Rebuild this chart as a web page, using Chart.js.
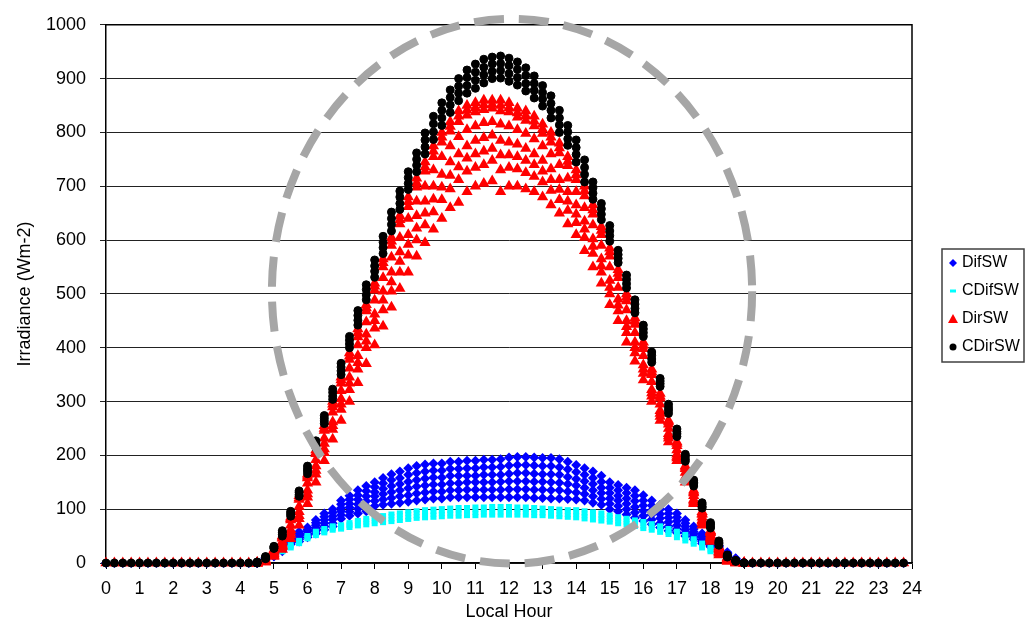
<!DOCTYPE html>
<html>
<head>
<meta charset="utf-8">
<script src="https://cdn.jsdelivr.net/npm/chart.js@4.4.1/dist/chart.umd.min.js"></script>
<style>
body { margin: 0; background: #fff; }
#wrap { width: 1027px; height: 624px; position: relative; }
</style>
</head>
<body>
<div id="wrap"><canvas id="myChart"></canvas></div>
<script>
// 15-minute time steps (local hour)
const dayHours = [4.5,4.75,5,5.25,5.5,5.75,6,6.25,6.5,6.75,7,7.25,7.5,7.75,8,8.25,8.5,8.75,9,9.25,9.5,9.75,10,10.25,10.5,10.75,11,11.25,11.5,11.75,12,12.25,12.5,12.75,13,13.25,13.5,13.75,14,14.25,14.5,14.75,15,15.25,15.5,15.75,16,16.25,16.5,16.75,17,17.25,17.5,17.75,18,18.25,18.5,18.75,19];
// night steps, every series is 0 there
const nightHours = [0,0.25,0.5,0.75,1,1.25,1.5,1.75,2,2.25,2.5,2.75,3,3.25,3.5,3.75,4,4.25,19.25,19.5,19.75,20,20.25,20.5,20.75,21,21.25,21.5,21.75,22,22.25,22.5,22.75,23,23.25,23.5,23.75];

const seriesNames = ["DifSW", "CDifSW", "DirSW", "CDirSW"];

// one row per day step, several days per row
const difSW = [
  [0,0,1,1,2,2],[5,6,7,8,9,10],[12,13,15,17,18,20],[22,24,26,28,31,33],[35,37,39,41,43,45],
  [40,44,47,51,54,58],[48,52,55,59,62,66],[55,60,65,70,75,80],[62,68,74,80,86,92],[68,74,81,87,94,100],
  [82,89,96,102,109,116],[88,95,103,110,118,125],[92,101,109,118,126,135],[96,105,115,124,134,143],[106,115,124,132,141,150],
  [108,118,128,138,148,158],[110,121,132,143,154,165],[112,124,135,147,158,170],[114,126,139,151,164,176],[116,129,142,154,167,180],
  [118,131,144,157,170,183],[120,133,146,159,172,185],[120,133,146,159,172,185],[122,135,148,162,175,188],[122,135,148,162,175,188],
  [122,136,150,162,176,190],[122,136,150,162,176,190],[122,136,150,164,178,192],[122,136,150,164,178,192],[122,136,151,164,179,193],
  [122,137,152,166,181,196],[122,137,152,167,182,197],[122,137,152,167,182,197],[121,136,151,166,181,196],[121,136,151,165,180,195],
  [120,135,150,165,180,195],[120,135,149,164,178,193],[119,133,147,160,174,188],[118,131,144,156,169,182],[116,128,140,152,164,176],
  [112,124,135,147,158,170],[108,119,130,140,151,162],[100,110,120,130,140,150],[96,106,116,125,135,145],[90,100,110,120,130,140],
  [84,94,104,115,125,135],[78,88,97,107,116,126],[72,81,90,98,107,116],[66,74,83,91,100,108],[60,68,76,84,92,100],
  [56,63,70,78,85,92],[50,56,62,68,74,80],[44,49,54,58,63,68],[36,40,43,48,51,55],[30,32,35,37,40,42],
  [20,22,24,28,30,32],[12,14,15,17,18,20],[4,5,6,7,8,9],[0,0,1,1,2,2]
];

const cdifSW = [
  [0,0,1,1],[5,6,7,8],[13,15,16,18],[20,22,25,27],[27,30,32,35],
  [35,38,40,43],[44,47,49,52],[50,53,57,60],[55,58,62,65],[60,63,67,70],
  [62,65,69,72],[65,69,72,76],[68,72,76,80],[70,75,79,84],[72,77,81,86],
  [74,79,84,89],[76,81,87,92],[78,83,89,94],[80,85,91,96],[82,87,93,98],
  [83,89,94,100],[84,90,95,101],[85,91,96,102],[86,92,97,103],[86,92,98,104],
  [87,93,98,104],[87,93,99,105],[88,94,99,105],[88,94,100,106],[88,94,100,106],
  [88,94,100,106],[88,94,99,105],[88,94,99,105],[87,93,98,104],[87,92,98,103],
  [86,91,97,102],[85,90,96,101],[84,89,95,100],[83,89,94,100],[81,87,92,98],
  [79,85,90,96],[77,83,88,94],[75,80,85,90],[72,77,82,87],[70,75,79,84],
  [67,72,76,81],[63,68,73,78],[60,65,69,74],[56,61,65,70],[52,56,61,65],
  [46,51,55,60],[40,45,49,54],[34,38,42,46],[27,31,34,38],[20,23,27,30],
  [14,17,19,22],[8,10,12,14],[3,4,5,6],[0,0,1,1]
];

const dirSW = [
  [0,0,0,0,0,0,0,0],[6,5,5,4,3,3,2,2],[25,23,22,20,17,15,14,12],[50,48,46,40,35,32,30,25],[85,82,80,70,62,57,52,45],
  [125,121,118,105,95,88,82,70],[165,161,158,148,135,128,122,110],[210,206,203,192,180,172,165,150],[255,250,246,232,222,212,205,190],[300,295,290,280,262,255,248,230],
  [345,340,334,320,305,295,285,265],[390,384,378,362,345,334,322,300],[435,428,420,405,385,372,360,335],[480,474,468,448,425,412,400,370],[520,514,507,488,462,450,436,405],
  [565,558,550,530,505,488,470,440],[605,598,590,568,540,522,505,475],[645,638,630,605,578,560,540,510],[680,671,662,640,610,592,572,540],[715,706,698,672,645,622,600,570],
  [745,736,728,700,672,650,628,595],[775,765,755,730,700,676,652,620],[800,791,782,755,722,698,675,640],[820,811,802,775,745,720,695,660],[840,830,820,792,760,736,712,670],
  [850,841,832,805,775,752,728,690],[855,846,838,812,785,760,735,700],[860,851,842,818,790,765,740,705],[860,852,845,820,795,770,748,710],[860,850,840,815,785,758,730,690],
  [855,846,838,812,782,758,735,700],[845,836,828,805,778,755,732,700],[840,831,822,798,770,748,725,695],[830,821,812,788,760,740,718,690],[815,806,798,775,748,728,708,680],
  [800,791,782,760,732,712,692,665],[780,771,762,740,712,694,675,650],[755,746,738,715,690,672,655,630],[730,721,712,690,665,648,632,610],[700,691,682,660,635,620,605,580],
  [665,656,648,628,602,588,575,550],[625,618,610,590,565,552,540,520],[585,578,570,550,525,512,500,480],[545,538,530,512,490,479,468,450],[500,494,487,470,450,439,428,410],
  [455,449,443,428,410,400,390,375],[410,404,398,385,368,360,352,340],[360,355,350,337,322,316,310,300],[315,310,306,295,283,278,272,265],[265,262,258,250,240,236,232,225],
  [225,222,218,210,202,198,195,190],[180,178,175,168,160,158,155,150],[135,132,130,125,118,116,113,110],[95,92,90,85,80,78,75,70],[60,58,56,52,48,46,44,40],
  [30,28,27,24,21,20,18,15],[10,9,9,7,5,5,4,3],[2,2,2,1,1,1,0,0],[0,0,0,0,0,0,0,0]
];

const cdirSW = [
  [0,0,1,2],[8,9,11,12],[27,28,30,31],[50,53,57,60],[87,90,93,96],
  [124,127,131,134],[166,171,175,180],[214,218,223,227],[259,264,269,274],[304,310,317,323],
  [350,357,364,371],[400,407,414,421],[442,451,460,469],[489,498,508,517],[531,542,552,563],
  [575,586,596,607],[617,629,640,652],[657,668,680,691],[694,705,716,727],[727,739,750,762],
  [760,773,786,799],[787,801,816,830],[813,827,841,855],[837,851,865,879],[859,873,886,900],
  [873,887,902,916],[882,897,912,927],[892,907,921,936],[900,913,927,940],[901,915,928,942],
  [895,909,924,938],[888,902,917,931],[877,891,906,920],[864,878,891,905],[849,862,874,887],
  [827,841,854,868],[800,814,827,841],[776,788,801,813],[745,759,772,786],[708,722,735,749],
  [676,687,697,708],[638,648,658,668],[598,608,617,627],[558,566,573,581],[511,519,527,535],
  [465,473,481,489],[421,428,435,442],[373,379,386,392],[328,333,338,343],[278,284,289,295],
  [235,240,244,249],[189,193,198,202],[143,147,150,154],[102,105,109,112],[65,68,72,75],
  [33,36,38,41],[11,12,14,15],[3,4,4,5],[0,0,0,0]
];

// dashed ring, in data units (hour, Wm-2)
const ring = { x: 12.09, y: 505, rx: 7.15, ry: 506 };

function toPoints(rows) {
    const pts = [];
    rows.forEach((vals, i) => {
        vals.forEach(v => pts.push({ x: dayHours[i], y: v }));
    });
    nightHours.forEach(h => pts.push({ x: h, y: 0 }));
    return pts;
}

const ringPlugin = {
    id: 'ring',
    beforeDatasetsDraw(chart) {
        const { ctx, chartArea } = chart;
        ctx.save();
        ctx.strokeStyle = '#000';
        ctx.lineWidth = 1.5;
        ctx.beginPath();
        ctx.moveTo(chartArea.left, chartArea.top);
        ctx.lineTo(chartArea.right, chartArea.top);
        ctx.lineTo(chartArea.right, chartArea.bottom);
        ctx.stroke();
        ctx.restore();
    },
    afterDatasetsDraw(chart) {
        const { ctx, scales: { x, y } } = chart;
        const cx = x.getPixelForValue(ring.x);
        const cy = y.getPixelForValue(ring.y);
        const rx = x.getPixelForValue(ring.x + ring.rx) - cx;
        const ry = cy - y.getPixelForValue(ring.y + ring.ry);
        ctx.save();
        ctx.strokeStyle = '#a6a6a6';
        ctx.lineWidth = 8;
        ctx.setLineDash([30, 15]);
        ctx.beginPath();
        ctx.ellipse(cx, cy, rx, ry, 0, 0, Math.PI * 2);
        ctx.stroke();
        ctx.restore();
    }
};

// legend in a box on the right
const boxLegend = {
    id: 'boxLegend',
    afterDraw(chart) {
        const ctx = chart.ctx;
        const left = 942, top = 249, w = 82, h = 113;
        ctx.save();
        ctx.strokeStyle = '#404040';
        ctx.lineWidth = 1.5;
        ctx.strokeRect(left, top, w, h);
        ctx.font = '16px "Liberation Sans", Arial, sans-serif';
        ctx.textBaseline = 'middle';
        ctx.fillStyle = '#000';
        const colors = ['#0000ff', '#00ffff', '#ff0000', '#000000'];
        seriesNames.forEach((name, i) => {
            const yy = top + 14 + i * 28;
            const mx = left + 11;
            ctx.fillStyle = colors[i];
            ctx.strokeStyle = colors[i];
            ctx.beginPath();
            if (i === 0) {
                ctx.moveTo(mx, yy - 4); ctx.lineTo(mx + 4, yy); ctx.lineTo(mx, yy + 4); ctx.lineTo(mx - 4, yy);
                ctx.closePath(); ctx.fill();
            } else if (i === 1) {
                ctx.fillRect(mx - 3, yy - 1.5, 6, 3);
            } else if (i === 2) {
                ctx.moveTo(mx, yy - 5); ctx.lineTo(mx + 5, yy + 4); ctx.lineTo(mx - 5, yy + 4);
                ctx.closePath(); ctx.fill();
            } else {
                ctx.arc(mx, yy, 3.5, 0, Math.PI * 2); ctx.fill();
            }
            ctx.fillStyle = '#000';
            ctx.fillText(name, left + 20, yy);
        });
        ctx.restore();
    }
};

const tickFont = { family: '"Liberation Sans", Arial, sans-serif', size: 18 };

const data = {
    datasets: [{
        label: seriesNames[0],
        data: toPoints(difSW),
        pointStyle: 'rectRot',
        pointRadius: 5,
        backgroundColor: '#0000ff',
        borderColor: '#0000ff',
        borderWidth: 0,
        clip: false,
        order: 4,
    }, {
        label: seriesNames[1],
        data: toPoints(cdifSW),
        pointStyle: 'line',
        pointRadius: 3,
        backgroundColor: '#00ffff',
        borderColor: '#00ffff',
        borderWidth: 4,
        clip: false,
        order: 3,
    }, {
        label: seriesNames[2],
        data: toPoints(dirSW),
        pointStyle: 'triangle',
        pointRadius: 6.5,
        backgroundColor: '#ff0000',
        borderColor: '#ff0000',
        borderWidth: 0,
        clip: false,
        order: 2,
    }, {
        label: seriesNames[3],
        data: toPoints(cdirSW),
        pointStyle: 'circle',
        pointRadius: 4,
        backgroundColor: '#000000',
        borderColor: '#000000',
        borderWidth: 1,
        clip: false,
        order: 1,
    }],
};

const config = {
    type: 'scatter',
    data: data,
    options: {
        responsive: true,
        maintainAspectRatio: false,
        animation: false,
        layout: {
            padding: { top: 17, right: 115, bottom: 0, left: 0 }
        },
        scales: {
            x: {
                type: 'linear',
                min: 0,
                max: 24,
                afterFit: (s) => { s.height = 61; },
                grid: {
                    drawOnChartArea: false,
                    drawTicks: true,
                    tickLength: 6,
                    color: '#000',
                },
                border: { color: '#000', width: 1.5 },
                ticks: {
                    stepSize: 1,
                    color: '#000',
                    padding: 9,
                    font: tickFont,
                    maxRotation: 0,
                    autoSkip: false,
                    callback: (v) => String(v),
                },
                title: {
                    display: true,
                    text: 'Local Hour',
                    color: '#000',
                    font: tickFont,
                    padding: { top: 0, bottom: 1 },
                },
            },
            y: {
                min: 0,
                max: 1000,
                afterFit: (s) => { s.width = 106; },
                grid: {
                    color: '#222',
                    lineWidth: 1,
                    tickLength: 6,
                },
                border: { color: '#000', width: 1.5 },
                ticks: {
                    stepSize: 100,
                    color: '#000',
                    padding: 14,
                    font: tickFont,
                    callback: (v) => String(v),
                },
                title: {
                    display: true,
                    text: 'Irradiance (Wm-2)',
                    color: '#000',
                    font: tickFont,
                    padding: { top: 14, bottom: 0 },
                },
            },
        },
        plugins: {
            legend: { display: false },
            tooltip: { enabled: false },
        },
    },
    plugins: [ringPlugin, boxLegend],
};

const myChart = new Chart(document.getElementById('myChart').getContext('2d'), config);
</script>
</body>
</html>
